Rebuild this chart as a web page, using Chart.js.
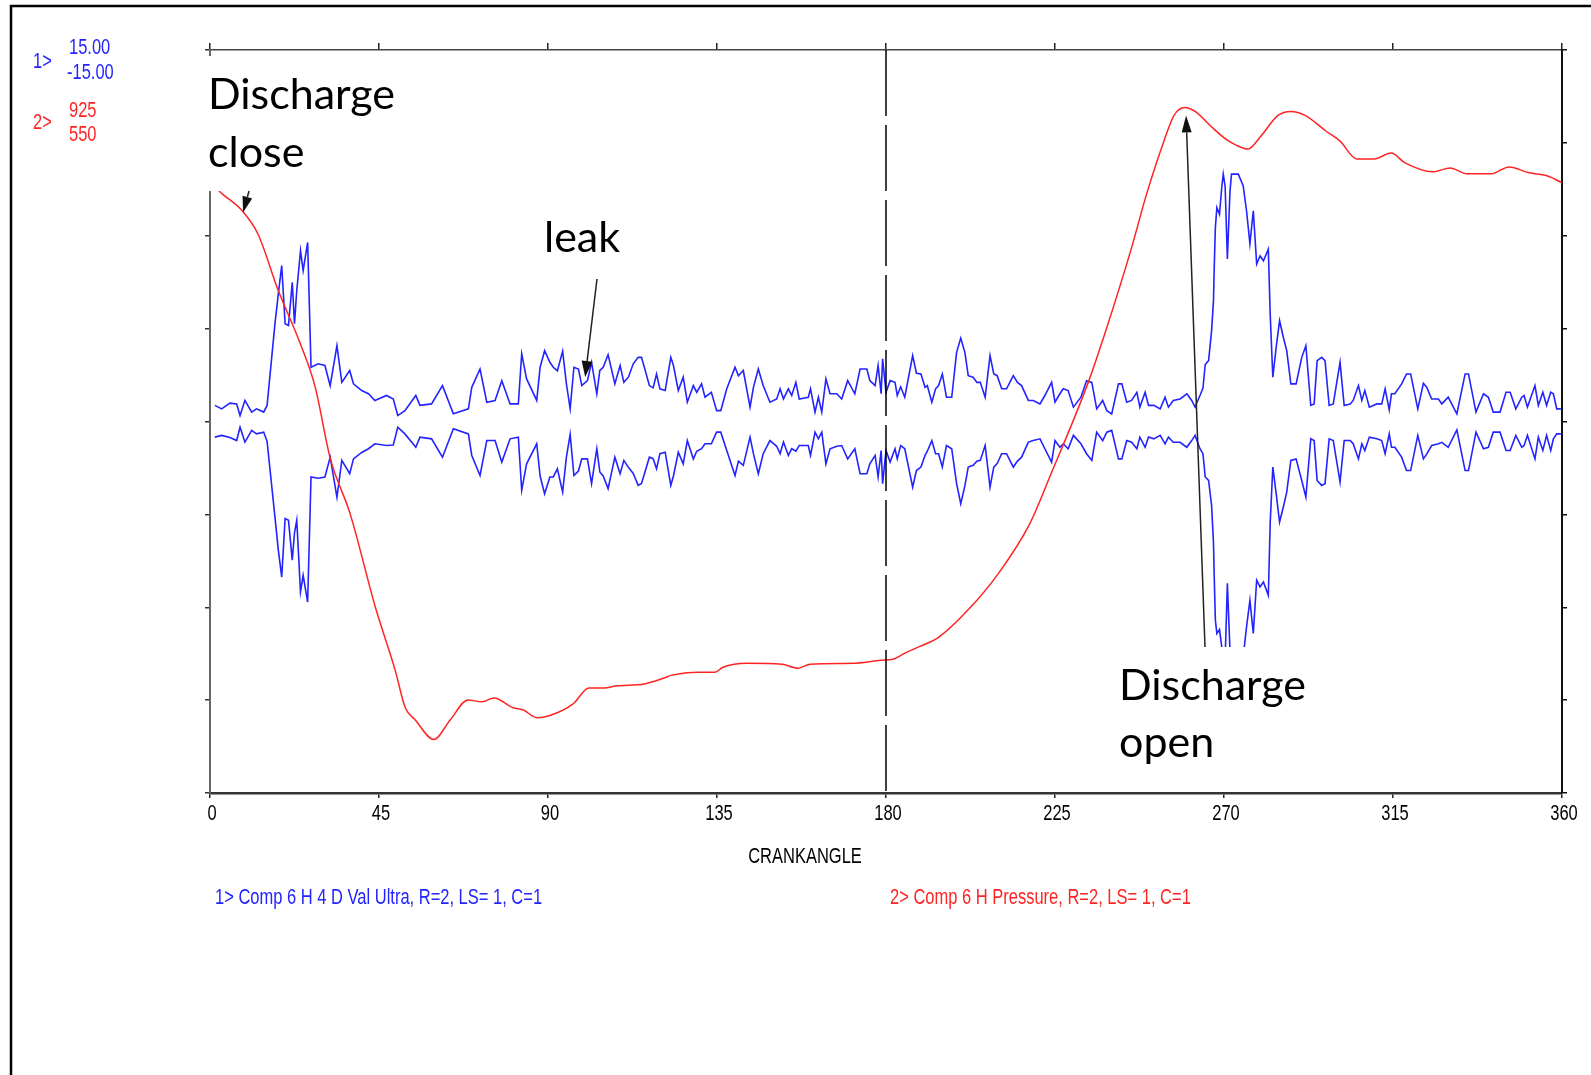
<!DOCTYPE html>
<html>
<head>
<meta charset="utf-8">
<script src="https://cdn.jsdelivr.net/npm/chart.js@4.4.1/dist/chart.umd.min.js"></script>
<style>
  html, body { margin: 0; padding: 0; background: #fff; overflow: hidden; }
  canvas { display: block; }
</style>
</head>
<body>
<canvas id="graf" width="1591" height="1075" style="width:1591px;height:1075px"></canvas>
<script>
// crank angle (deg) and pressure for trace 2
const redDeg = [0,3.5,8.5,12.8,18.1,24,28,32,37.3,44,45.8,49.3,52,54.6,59.6,64,68.7,72.4,75.6,80.7,
  83.3,87.1,90.3,96.7,100.9,105,108,115.6,120.9,123,130.2,134.5,136.6,143,152.3,156.6,159.8,171.2,178.7,181.9,
  185,189,194,202,210,218.3,223.7,233.8,238.3,245.2,249.5,254,256.7,259.5,262.3,266.8,270.5,273.2,276.4,279.6,
  284.4,287.8,291.6,297.2,300.9,305.4,310,314.5,318.2,325.6,330.2,334.7,341.1,345.9,351.2,356,360];
const redVal = [858,852,844,832,804,777,755,719,691,644,633,612,593,587,577,587,597,596,598,593,
  592,588,589,595,603,603,604,605,608,609.5,611,611,613.5,615.5,615,613,615,615.5,617,617.5,
  620.6,624,628.6,642.7,661,686,710,757,782,824,853,879,892,896,894,886,880,877,875,881,
  892,894,892,884,879,870,870,873,868,863.5,865.5,862.5,862.5,866,863,861.5,858];

// ultrasonic trace 1, upper and lower envelope
const blueDeg = [
  1.3,3.1,5.3,7.1,8.0,9.3,11.1,12.4,14.3,15.2,
  17.3,18.2,19.1,20.0,20.9,21.9,22.5,23.1,24.1,24.8,
  26.0,26.9,28.8,30.6,32.0,33.8,35.1,37.2,38.2,40.4,
  42.2,43.9,47.0,48.8,50.0,51.9,54.8,55.9,59.0,61.9,
  64.8,68.8,69.7,71.9,73.7,75.9,77.7,79.9,82.1,83.0,
  84.3,87.0,87.9,89.1,90.5,91.4,92.5,93.9,94.9,95.9,
  96.9,98.1,99.0,100.5,101.6,103.0,103.8,104.7,106.0,107.8,
  109.2,110.2,111.4,112.7,114.0,114.9,117.0,118.0,118.9,119.8,
  121.2,122.7,123.4,124.7,126.0,127.1,128.7,129.6,130.9,131.8,
  133.5,134.9,136.0,137.6,139.8,140.7,142.0,143.8,144.7,146.0,
  147.3,149.1,150.9,151.8,152.7,154.0,154.9,156.0,156.9,159.3,
  159.9,161.1,162.0,162.9,164.0,165.1,166.9,168.2,169.8,171.7,
  173.1,174.9,175.7,177.1,177.9,178.7,179.1,180.0,181.1,182.4,
  183.0,183.9,185.0,187.1,188.1,189.3,190.4,191.0,192.2,193.2,
  194.0,195.0,196.1,197.5,198.8,199.9,201.0,201.9,203.2,204.2,
  205.1,206.4,207.7,208.7,209.6,210.8,212.1,213.9,215.0,216.1,
  217.9,219.2,221.0,222.3,224.1,225.0,226.3,227.2,228.5,229.9,
  231.9,233.4,234.8,236.1,237.7,238.8,240.1,241.9,242.8,244.1,
  245.4,246.8,247.6,249.0,249.9,251.3,253.0,254.3,255.2,256.5,
  258.3,260.1,261.4,262.3,263.6,264.4,265.0,265.9,266.7,267.2,
  267.4,267.7,268.1,268.8,269.4,269.8,270.3,270.9,271.6,272.0,
  273.8,275.1,276.0,276.9,277.8,278.7,279.6,280.5,281.8,282.3,
  283.0,283.9,284.8,285.8,286.7,287.8,289.2,290.7,291.8,293.1,
  294.0,294.8,296.0,296.9,298.0,299.1,300.9,302.0,303.6,304.4,
  305.8,306.7,307.5,308.7,310.7,312.0,312.9,314.0,314.6,315.5,
  317.3,318.6,319.7,321.6,323.1,324.0,325.3,327.1,328.0,329.7,
  332.0,334.2,335.1,337.1,339.1,340.4,341.7,343.5,345.1,346.2,
  347.7,349.3,349.9,350.8,352.8,353.7,354.9,355.9,357.0,357.7,
  358.6,359.7];
const blueUp = [
  0.65,0.51,0.74,0.71,0.24,0.85,0.38,0.51,0.38,0.65,
  3.95,5.16,6.29,3.95,3.88,5.62,3.95,5.28,6.90,6.09,
  7.23,2.19,2.33,2.26,1.45,3.06,1.58,2.06,1.52,1.25,
  1.12,0.85,1.05,0.91,0.24,0.44,1.05,0.65,0.71,1.45,
  0.31,0.51,1.38,2.12,0.78,0.85,1.65,0.71,0.71,2.73,
  1.72,0.85,2.19,2.86,2.39,2.19,2.05,2.84,1.52,0.51,
  2.19,2.12,1.45,1.65,2.39,1.12,2.06,2.19,2.70,1.52,
  2.26,1.58,1.79,2.33,2.59,2.59,1.45,1.36,1.92,1.32,
  1.25,2.59,2.26,1.25,1.79,0.78,1.45,1.18,1.52,0.98,
  1.18,0.44,0.44,1.32,2.19,1.85,2.06,0.58,1.38,2.12,
  1.45,0.78,0.91,1.32,0.91,1.32,1.05,1.58,0.91,0.98,
  1.32,0.38,0.98,0.38,1.72,1.12,1.12,0.91,1.65,1.12,
  2.12,2.12,1.65,1.45,2.26,1.12,2.53,1.18,1.65,1.58,
  1.05,1.40,0.98,2.66,1.95,1.92,1.38,1.45,0.78,1.32,
  1.45,1.92,0.98,0.98,2.79,3.37,2.79,1.85,1.79,1.58,
  1.58,0.98,2.66,1.92,1.85,1.32,1.32,1.85,1.58,1.45,
  0.85,0.85,0.71,1.05,1.58,0.78,1.12,1.32,1.25,0.58,
  0.98,1.65,1.58,0.51,0.85,0.44,0.31,1.52,1.52,0.78,
  0.85,1.18,0.58,1.18,0.65,0.65,0.51,0.98,0.58,0.85,
  0.91,1.12,0.85,0.58,1.05,1.35,2.30,2.46,3.67,4.88,
  6.22,7.83,8.64,8.37,9.45,9.99,9.50,6.56,9.31,9.99,
  9.99,9.52,8.51,7.17,8.51,6.36,6.69,6.49,6.96,4.34,
  1.79,3.00,4.07,3.40,2.86,1.52,1.52,2.59,3.06,0.65,
  0.71,2.46,2.59,2.46,0.65,0.71,2.39,0.65,0.71,0.85,
  1.45,0.85,1.25,0.58,0.71,0.71,1.32,0.47,1.12,1.12,
  1.52,1.92,1.92,0.51,1.54,1.38,0.91,0.91,0.71,0.98,
  0.31,1.92,1.92,0.38,1.12,0.98,0.38,0.38,1.18,1.18,
  0.51,0.98,1.05,0.58,1.45,0.65,1.18,0.65,1.18,1.12,
  0.51,0.51];
const blueLow = [
  -0.63,-0.56,-0.65,-0.77,-0.23,-0.83,-0.36,-0.50,-0.43,-0.80,
  -3.86,-5.20,-6.28,-3.92,-3.99,-5.60,-4.50,-3.99,-6.88,-6.21,
  -7.29,-2.24,-2.29,-2.24,-1.44,-3.05,-1.57,-2.11,-1.51,-1.25,
  -1.10,-0.90,-0.97,-0.95,-0.23,-0.50,-1.04,-0.63,-0.70,-1.44,
  -0.29,-0.50,-1.37,-2.18,-0.77,-0.77,-1.64,-0.70,-0.63,-2.78,
  -1.71,-0.90,-2.20,-2.92,-2.24,-2.24,-1.91,-2.85,-1.44,-0.52,
  -2.18,-2.00,-1.51,-1.51,-2.51,-1.10,-2.04,-2.20,-2.71,-1.44,
  -2.11,-1.57,-1.85,-2.10,-2.58,-2.50,-1.44,-1.50,-1.91,-1.30,
  -1.24,-2.58,-2.20,-1.24,-1.71,-0.77,-1.51,-1.20,-1.10,-0.90,
  -0.90,-0.43,-0.43,-1.17,-2.18,-1.60,-1.77,-0.63,-1.30,-2.11,
  -1.30,-0.77,-1.00,-1.30,-0.83,-1.37,-1.10,-1.20,-0.97,-0.97,
  -1.37,-0.43,-0.70,-0.43,-1.71,-1.10,-1.00,-0.97,-1.51,-1.10,
  -2.11,-2.11,-1.71,-1.37,-2.24,-1.17,-2.51,-1.17,-1.64,-1.10,
  -1.51,-0.97,-1.10,-2.65,-1.98,-1.84,-1.37,-1.20,-0.77,-1.30,
  -1.30,-1.84,-0.97,-1.10,-2.51,-3.32,-2.60,-1.84,-1.77,-1.60,
  -1.57,-0.97,-2.65,-1.84,-1.70,-1.30,-1.30,-1.84,-1.60,-1.44,
  -0.83,-0.77,-0.70,-1.10,-1.64,-0.77,-1.04,-0.90,-1.10,-0.56,
  -0.90,-1.30,-1.57,-0.43,-0.77,-0.43,-0.36,-1.51,-1.51,-0.77,
  -0.84,-1.10,-0.63,-1.04,-0.63,-0.70,-0.56,-0.90,-0.63,-0.84,
  -0.84,-1.04,-0.77,-0.56,-1.10,-1.30,-2.24,-2.38,-3.40,-4.90,
  -6.28,-8.02,-8.56,-8.40,-9.10,-10.00,-9.60,-6.53,-9.30,-10.00,
  -10.00,-9.52,-8.29,-7.22,-8.56,-6.41,-6.68,-6.48,-7.02,-4.10,
  -1.84,-2.92,-4.06,-3.45,-2.85,-1.57,-1.51,-2.38,-3.05,-0.70,
  -0.77,-2.38,-2.58,-2.51,-0.70,-0.77,-2.45,-0.77,-0.77,-0.90,
  -1.51,-0.90,-1.17,-0.63,-0.70,-0.77,-1.30,-0.50,-1.04,-1.04,
  -1.44,-1.98,-1.98,-0.56,-1.51,-1.31,-0.97,-0.90,-0.84,-1.04,
  -0.34,-1.98,-1.98,-0.43,-1.10,-1.04,-0.43,-0.43,-1.17,-1.17,
  -0.56,-1.04,-0.97,-0.56,-1.51,-0.63,-1.17,-0.56,-1.17,-0.70,
  -0.50,-0.50];

const tdcDeg = [180, 180];      // dashed marker line
const tdcVal = [925, 550];

const xRange = [0, 360], blueRange = [-15, 15], redRange = [550, 925];
const sideLabels = [['1>', '15.00', '-15.00'], ['2>', '925', '550']];
const legendTexts = ['1> Comp 6 H 4 D Val Ultra, R=2, LS= 1, C=1', '2> Comp 6 H Pressure, R=2, LS= 1, C=1'];

const SANS = "'Liberation Sans', Arial, sans-serif";
const CALI = "Lato, 'Open Sans', sans-serif";
const BLUE = '#2323ff', RED = '#ff2424';
const SX = 0.75;   // the scope software prints with a squeezed font

const pts = (xs, ys) => xs.map((x, i) => ({ x, y: ys[i] }));

function narrowText(ctx, text, x, y) {
  ctx.save(); ctx.translate(x, y); ctx.scale(SX, 1); ctx.fillText(text, 0, 0); ctx.restore();
}

function arrow(ctx, x1, y1, x2, y2, hl, hw) {
  const a = Math.atan2(y2 - y1, x2 - x1), c = Math.cos(a), s = Math.sin(a);
  const bx = x2 - hl * c, by = y2 - hl * s;
  ctx.beginPath(); ctx.moveTo(x1, y1); ctx.lineTo(bx, by); ctx.stroke();
  ctx.beginPath();
  ctx.moveTo(x2, y2);
  ctx.lineTo(bx + hw / 2 * s, by - hw / 2 * c);
  ctx.lineTo(bx - hw / 2 * s, by + hw / 2 * c);
  ctx.closePath(); ctx.fill();
}

// squeeze the x tick labels the same way
const narrowTicks = {
  id: 'narrowTicks',
  beforeDraw(chart) {
    const sc = chart.scales.x;
    if (sc._narrow) return;
    const orig = sc.drawLabels;
    sc.drawLabels = function (area) {
      const ctx = this.ctx, fill = ctx.fillText;
      ctx.fillText = function (t, x, y) {
        this.save(); this.translate(x + 2, y); this.scale(SX, 1); fill.call(this, t, 0, 0); this.restore();
      };
      orig.call(this, area);
      ctx.fillText = fill;
    };
    sc._narrow = true;
  }
};

// white text boxes, callout texts and arrows (tips anchored on the scales)
const callouts = {
  id: 'callouts',
  afterDatasetsDraw(chart) {
    const { ctx, scales } = chart;
    const X = v => scales.x.getPixelForValue(v);
    const YB = v => scales.y.getPixelForValue(v), YR = v => scales.y2.getPixelForValue(v);
    ctx.save();
    ctx.fillStyle = '#fff';
    ctx.fillRect(195, 56, 206, 135);
    ctx.fillRect(1105, 647, 212, 138);

    ctx.font = '100px ' + CALI;
    const size = 100 * 187 / ctx.measureText('Discharge').width;
    ctx.font = size.toFixed(1) + 'px ' + CALI;
    ctx.fillStyle = '#000';
    ctx.textBaseline = 'alphabetic';
    ctx.textAlign = 'left';
    ctx.fillText('Discharge', 208, 109);
    ctx.fillText('close', 208, 167);
    ctx.fillText('leak', 544, 252);
    ctx.fillText('Discharge', 1119, 700);
    ctx.fillText('open', 1119, 757);

    ctx.strokeStyle = '#222'; ctx.fillStyle = '#111'; ctx.lineWidth = 1.5;
    let tx = X(8.8), ty = YR(843);
    arrow(ctx, tx + 6, 191, tx, ty, 16, 10);
    tx = X(99.9); ty = YB(1.8);
    arrow(ctx, 597, 279, tx, ty, 16, 11);
    tx = X(259.9); ty = YR(892);
    arrow(ctx, 1205, 647, tx, ty, 17, 10);
    ctx.restore();
  },
  afterDraw(chart) {
    const { ctx } = chart;
    ctx.save();
    // slide frame
    ctx.strokeStyle = '#000'; ctx.lineWidth = 2.5;
    ctx.beginPath(); ctx.moveTo(11, 1075); ctx.lineTo(11, 6); ctx.lineTo(1591, 6); ctx.stroke();

    ctx.font = '22px ' + SANS;
    ctx.textBaseline = 'middle'; ctx.textAlign = 'left';
    ctx.fillStyle = BLUE;
    narrowText(ctx, sideLabels[0][0], 33, 62);
    narrowText(ctx, sideLabels[0][1], 69, 48);
    narrowText(ctx, sideLabels[0][2], 67, 73);
    narrowText(ctx, legendTexts[0], 215, 898);
    ctx.fillStyle = RED;
    narrowText(ctx, sideLabels[1][0], 33, 123);
    narrowText(ctx, sideLabels[1][1], 69, 111);
    narrowText(ctx, sideLabels[1][2], 69, 135);
    narrowText(ctx, legendTexts[1], 890, 898);
    ctx.fillStyle = '#000'; ctx.textAlign = 'center';
    narrowText(ctx, 'CRANKANGLE', 805, 857);
    ctx.restore();
  }
};

const ctxG = document.getElementById('graf').getContext('2d');
new Chart(ctxG, {
  type: 'line',
  data: {
    datasets: [
      { data: pts(tdcDeg, tdcVal), yAxisID: 'y2', borderColor: '#000', borderWidth: 1.5, borderDash: [66, 9] },
      { data: pts(redDeg, redVal), yAxisID: 'y2', borderColor: RED, borderWidth: 1.5, cubicInterpolationMode: 'monotone' },
      { data: pts(blueDeg, blueUp), yAxisID: 'y', borderColor: BLUE, borderWidth: 1.6 },
      { data: pts(blueDeg, blueLow), yAxisID: 'y', borderColor: BLUE, borderWidth: 1.6 }
    ]
  },
  options: {
    responsive: false,
    animation: false,
    devicePixelRatio: 1,
    layout: { padding: 0 },
    elements: { point: { radius: 0 }, line: { tension: 0, fill: false } },
    plugins: { legend: { display: false }, tooltip: { enabled: false } },
    scales: {
      x: {
        type: 'linear', position: 'bottom', min: xRange[0], max: xRange[1],
        afterFit: s => { s.height = 282; },
        ticks: { stepSize: 45, color: '#000', padding: 3, font: { family: SANS, size: 22 }, maxRotation: 0, autoSkip: false },
        grid: { drawOnChartArea: false, tickLength: 5, color: '#222', lineWidth: 1.5 },
        border: { color: '#333', width: 2.5 }
      },
      x2: {
        type: 'linear', position: 'top', min: xRange[0], max: xRange[1],
        afterFit: s => { s.height = 50; },
        ticks: { stepSize: 45, display: false },
        grid: { drawOnChartArea: false, tickLength: 7, color: '#222', lineWidth: 1.5 },
        border: { color: '#444', width: 1.6 }
      },
      y: {
        position: 'left', min: blueRange[0], max: blueRange[1],
        afterFit: s => { s.width = 210; },
        ticks: { stepSize: 3.75, display: false },
        grid: { drawOnChartArea: false, tickLength: 5, color: '#333', lineWidth: 1.5 },
        border: { color: '#666', width: 2 }
      },
      y2: {
        position: 'right', min: redRange[0], max: redRange[1],
        afterFit: s => { s.width = 29; },
        ticks: { stepSize: 46.875, display: false },
        grid: { drawOnChartArea: false, tickLength: 5, color: '#111', lineWidth: 1.5 },
        border: { color: '#111', width: 2 }
      }
    }
  },
  plugins: [narrowTicks, callouts]
});
</script>
</body>
</html>
